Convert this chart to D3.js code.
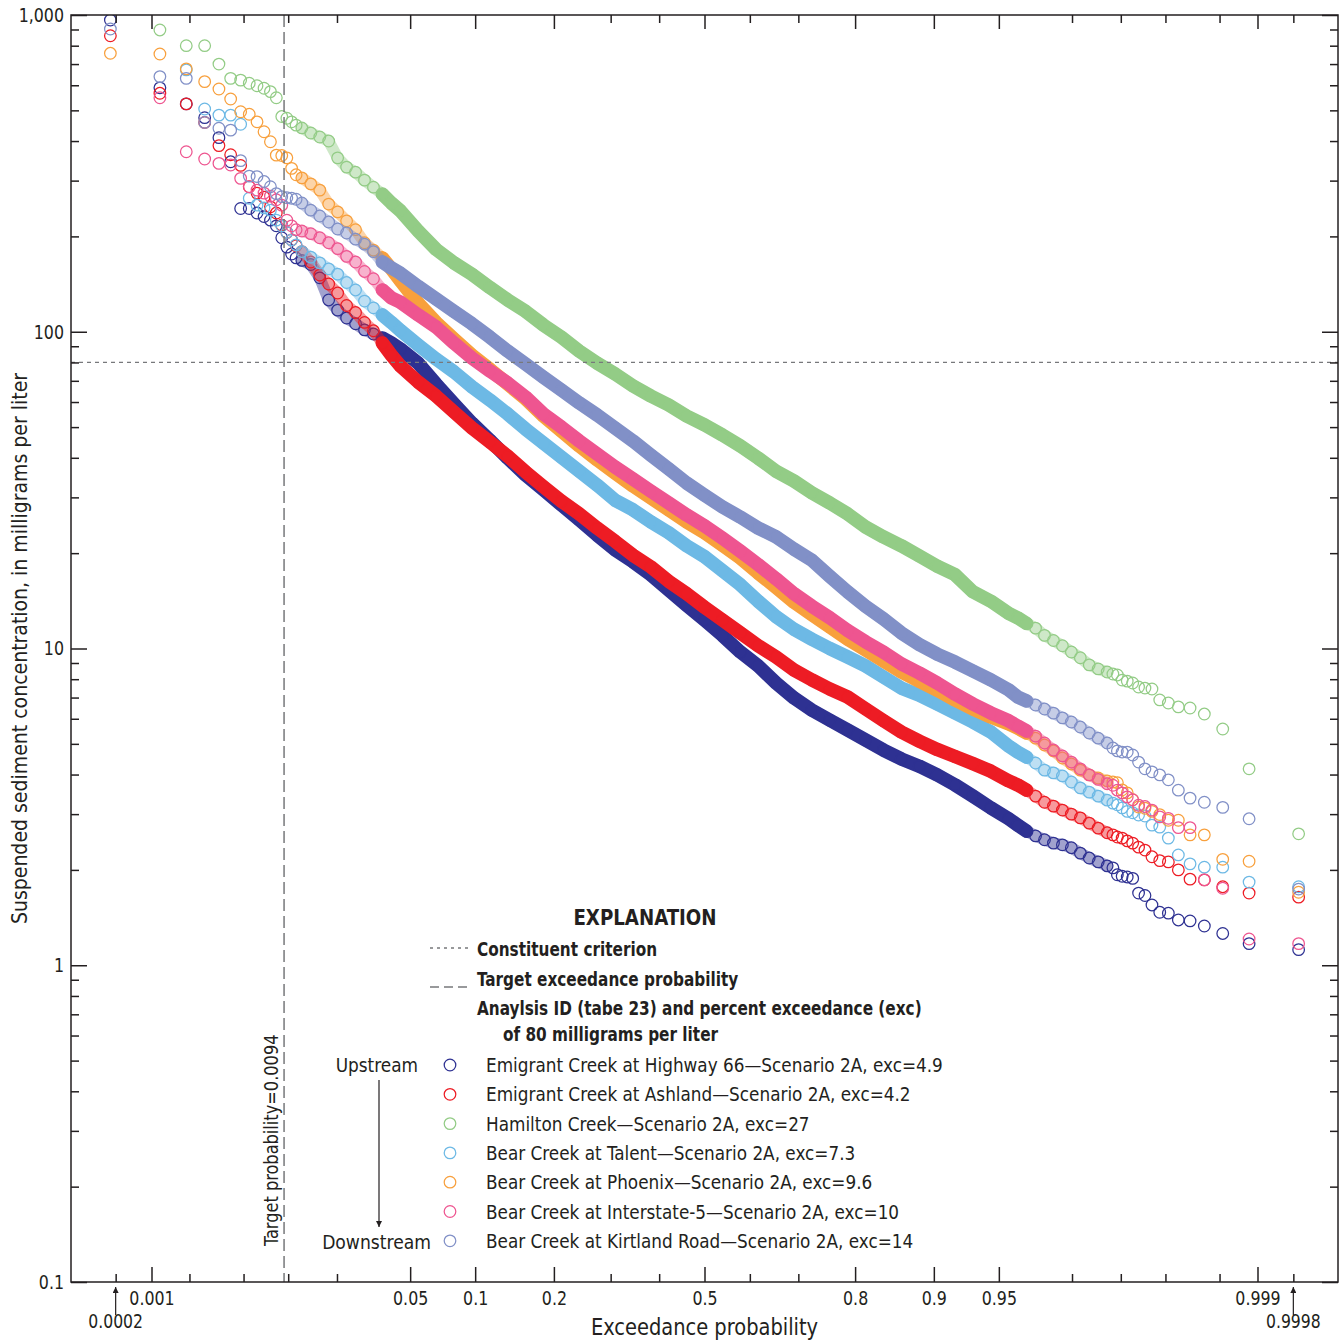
<!DOCTYPE html>
<html><head><meta charset="utf-8">
<script src="https://cdn.jsdelivr.net/npm/d3@7"></script>
<style>
body{margin:0;background:#fff}
svg text{font-family:"Liberation Sans Narrow","Arial Narrow","DejaVu Sans Condensed",sans-serif;fill:#231f20}
</style></head><body>
<svg id="chart" width="1341" height="1341"></svg>
<script>
// ---------------- data ----------------
const exceedance = [0.00045,0.00117,0.00189,0.00261,0.00333,0.00405,0.00477,0.00548,0.0062,0.00692,0.00764,0.00836,0.00908,0.0098,0.01052,0.01124,
0.01222,0.0139,0.01578,0.01786,0.02018,0.02275,0.02559,0.02872,0.03216,0.03593,0.04006,
0.04457,0.0548,0.06681,0.08076,0.0968,0.11507,0.13567,0.15866,0.18406,0.21186,0.24196,0.27425,0.30854,0.34458,0.38209,0.42074,0.46017,0.5,0.53983,0.57926,0.61791,0.65542,0.69146,0.72575,0.75804,0.78814,0.81594,0.84134,0.86433,0.88493,0.9032,0.91924,0.93319,0.9452,0.95543,
0.95994,0.96407,0.96784,0.97128,0.97441,0.97725,0.97982,0.98214,0.98422,0.9861,0.98778,
0.98876,0.98948,0.9902,0.99092,0.99164,0.99236,0.99308,0.9938,0.99452,0.99523,0.99595,0.99667,0.99739,0.99811,0.99883,0.99955];

const emigrantHwy66 = [964,589,524,474,410,344,245,245,237,231,225,216,198,185,176,171,
168,163,148,126,117,110.5,106,101.4,98.4,95.5,92.1,
88.3,79.6,68.4,59.2,51.5,45.5,39.9,35.3,31.7,28.4,25.5,22.8,20.5,18.8,17.1,15.3,13.7,12.3,11.0,9.75,8.81,7.78,6.98,6.39,5.94,5.53,5.14,4.78,4.48,4.25,3.99,3.71,3.42,3.14,2.90,
2.77,2.65,2.56,2.49,2.43,2.40,2.35,2.26,2.18,2.12,2.06,
2.03,1.93,1.91,1.90,1.88,1.69,1.66,1.55,1.47,1.46,1.39,1.38,1.33,1.26,1.17,1.12];

const emigrantAshland = [860,566,524,458,387,362,335,287,274,266,248,237,217,206,195,187,
179,166,151,141.5,132.5,121,115,107,100.7,92.1,84.4,
78.0,69.4,62.7,55.8,49.7,44.9,40.5,36.1,32.4,29.2,26.6,24.0,21.8,19.7,18.1,16.3,14.9,13.5,12.3,11.2,10.2,9.40,8.55,7.96,7.45,7.03,6.45,5.92,5.45,5.10,4.80,4.56,4.33,4.10,3.82,
3.71,3.57,3.42,3.27,3.18,3.09,3.00,2.92,2.81,2.71,2.62,
2.58,2.54,2.52,2.47,2.43,2.36,2.31,2.20,2.14,2.12,2.00,1.87,1.86,1.77,1.69,1.64];

const hamiltonCreek = [null,897,800,800,700,631,623,609,598,587,573,548,478,472,460,449,
440,424,412,400,354,331,319,301,286,272,255,
241,208,182,165,152,138,126,116,105,96.2,86.9,79.6,73.6,67.5,62.7,58.7,54.2,50.8,47.2,43.6,39.9,36.3,33.8,31.0,28.8,26.6,24.2,22.5,21.1,19.6,18.2,17.1,15.1,14.1,12.9,
12.5,12.0,11.6,11.0,10.6,10.2,9.75,9.35,8.88,8.62,8.43,
8.31,8.25,7.95,7.89,7.78,7.56,7.50,7.45,6.88,6.73,6.54,6.49,6.21,5.57,4.17,2.60];

const bearTalent = [null,null,671,505,483,483,452,264,251,246,242,225,216,206,195,188,
179,172,165,158,152,143,135.5,125,119,113,107,
101,90.8,82.0,74.7,67.0,60.9,55.0,49.3,44.5,40.2,36.3,32.8,29.4,27.4,25.1,23.2,21.1,19.5,17.6,15.9,14.1,12.6,11.5,10.7,10.0,9.40,8.81,8.13,7.50,7.13,6.68,6.26,5.86,5.45,4.92,
4.71,4.54,4.35,4.13,4.05,3.96,3.79,3.63,3.52,3.42,3.32,
3.25,3.21,3.14,3.06,3.03,2.98,2.96,2.77,2.73,2.52,2.23,2.09,2.04,2.04,1.83,1.77];

const bearPhoenix = [757,753,676,616,584,543,495,486,460,428,398,361,360,354,328,313,
306,293,280,253,239,224,210,191,181,171,158,
145,123,107,94.9,84.4,76.2,68.4,61.4,54.2,48.6,43.6,39.4,35.8,32.6,29.9,27.4,25.1,23.2,21.2,19.3,17.3,15.6,14.0,12.8,11.7,10.7,9.89,9.13,8.43,7.89,7.39,6.88,6.44,6.08,5.78,
5.61,5.41,5.21,4.96,4.75,4.51,4.32,4.13,3.99,3.90,3.82,
3.79,3.77,3.58,3.50,3.33,3.16,3.13,3.06,2.99,2.87,2.87,2.58,2.58,2.16,2.13,1.70];

const bearI5 = [null,548,370,351,340,336,305,287,280,274,268,261,251,225,216,210,
208,204,198,191,183,173,166,155,147,135.5,128,
124,113,103.5,92.1,82.6,75.2,68.9,62.2,55.0,50.0,45.2,41.1,37.4,34.3,31.4,28.8,26.4,24.4,22.3,20.3,18.4,16.6,14.9,13.6,12.5,11.4,10.5,9.74,8.94,8.37,7.78,7.18,6.68,6.26,5.91,
5.69,5.49,5.29,5.03,4.78,4.58,4.38,4.17,3.99,3.86,3.74,
3.70,3.57,3.50,3.40,3.33,3.20,3.17,3.09,2.94,2.91,2.72,2.72,1.86,1.75,1.21,1.17];

const bearKirtland = [903,639,631,458,439,433,347,310,309,298,287,273,267,265,264,262,
255,242,232,222,211,205,196,189,179,166,159,
153,139,127,116,106,96.2,86.9,79.1,71.9,65.5,59.6,54.6,49.7,45.2,40.8,36.9,33.3,30.5,28.0,26.0,24.0,22.5,20.6,19.0,16.9,15.1,13.6,12.4,11.2,10.3,9.6,9.06,8.49,7.96,7.40,
7.03,6.83,6.63,6.44,6.25,6.04,5.86,5.65,5.41,5.21,5.03,
4.85,4.75,4.71,4.71,4.61,4.38,4.17,4.08,3.99,3.85,3.57,3.37,3.27,3.15,2.90,1.74];

const seriesNames = ["Emigrant Creek at Highway 66","Emigrant Creek at Ashland","Hamilton Creek","Bear Creek at Talent","Bear Creek at Phoenix","Bear Creek at Interstate-5","Bear Creek at Kirtland Road"];
const scenario = "Scenario 2A";
const excPercent = [4.9,4.2,27,7.3,9.6,10,14];
const seriesValues = [emigrantHwy66,emigrantAshland,hamiltonCreek,bearTalent,bearPhoenix,bearI5,bearKirtland];
const seriesColors = ["#2e3192","#ed1c24","#93cc86","#6db9e5","#f8a03d","#ee5590","#8190c7"];

const criterionValue = 80;
const targetProbability = 0.0094;
const xDomain = [0.0002,0.9998];
const yDomain = [0.1,1000];
const xMajorTicks = [0.001,0.05,0.1,0.2,0.5,0.8,0.9,0.95,0.999];
const xMajorLabels = ["0.001","0.05","0.1","0.2","0.5","0.8","0.9","0.95","0.999"];
const xMinorTicks = [0.0005,0.002,0.005,0.01,0.02,0.3,0.4,0.6,0.7,0.98,0.99,0.995,0.998,0.9995];
const xArrowTicks = [0.0005,0.9995];
const xArrowLabels = ["0.0002","0.9998"];
const yMajorTicks = [0.1,1,10,100,1000];
const yMajorLabels = ["0.1","1","10","100","1,000"];
const denseRange = [0.0359,0.9641];   // points overlap into a solid band here
const ringRange = [0.0122,0.9878];    // points overlap into a ring cluster here

// ---------------- chart ----------------
const W=1341,H=1341,M={top:15,right:3,bottom:59,left:71};
const ink="#231f20";
function probit(p){
  const a=[-3.969683028665376e+01,2.209460984245205e+02,-2.759285104469687e+02,1.383577518672690e+02,-3.066479806614716e+01,2.506628277459239e+00];
  const b=[-5.447609879822406e+01,1.615858368580409e+02,-1.556989798598866e+02,6.680131188771972e+01,-1.328068155288572e+01];
  const c=[-7.784894002430293e-03,-3.223964580411365e-01,-2.400758277161838e+00,-2.549732539343734e+00,4.374664141464968e+00,2.938163982698783e+00];
  const d=[7.784695709041462e-03,3.224671290700398e-01,2.445134137142996e+00,3.754408661907416e+00];
  const pl=0.02425;let q,r;
  if(p<pl){q=Math.sqrt(-2*Math.log(p));return (((((c[0]*q+c[1])*q+c[2])*q+c[3])*q+c[4])*q+c[5])/((((d[0]*q+d[1])*q+d[2])*q+d[3])*q+1);}
  if(p>1-pl){q=Math.sqrt(-2*Math.log(1-p));return -(((((c[0]*q+c[1])*q+c[2])*q+c[3])*q+c[4])*q+c[5])/((((d[0]*q+d[1])*q+d[2])*q+d[3])*q+1);}
  q=p-0.5;r=q*q;return (((((a[0]*r+a[1])*r+a[2])*r+a[3])*r+a[4])*r+a[5])*q/(((((b[0]*r+b[1])*r+b[2])*r+b[3])*r+b[4])*r+1);
}
const zScale=d3.scaleLinear().domain(xDomain.map(probit)).range([M.left,W-M.right]);
const x=p=>zScale(probit(p));
x.range=()=>zScale.range(); x.domain=()=>xDomain.slice(); x.copy=()=>x;
const y=d3.scaleLog().domain(yDomain).range([H-M.bottom,M.top]);

// compress the (wider) installed font horizontally to match the condensed original
function squeeze(sel,k){
  sel.each(function(){const w=this.getComputedTextLength();if(w>0){this.setAttribute("textLength",w*k);this.setAttribute("lengthAdjust","spacingAndGlyphs");}});
  return sel;
}

const svg=d3.select("#chart");
const defs=svg.append("defs");
defs.append("clipPath").attr("id","plotclip").append("rect")
  .attr("x",M.left).attr("y",M.top).attr("width",W-M.left-M.right).attr("height",H-M.top-M.bottom);
defs.append("marker").attr("id","arrowUp").attr("viewBox","0 0 10 10").attr("refX",5).attr("refY",0)
  .attr("markerWidth",6).attr("markerHeight",9).attr("markerUnits","userSpaceOnUse").attr("orient","0")
  .append("path").attr("d","M0,10 L5,0 L10,10 Z").attr("fill",ink);
defs.append("marker").attr("id","arrowDown").attr("viewBox","0 0 10 10").attr("refX",5).attr("refY",10)
  .attr("markerWidth",6).attr("markerHeight",9).attr("markerUnits","userSpaceOnUse").attr("orient","0")
  .append("path").attr("d","M0,0 L5,10 L10,0 Z").attr("fill",ink);

function styleAxis(g,fs){
  g.select(".domain").remove();
  g.attr("font-family",null);
  g.selectAll(".tick line").attr("stroke",ink).attr("stroke-width",1.5);
  g.selectAll(".tick text").attr("font-size",fs).attr("fill",ink);
  squeeze(g.selectAll(".tick text"),0.88);
}
const yb=H-M.bottom, yt=M.top, xl=M.left, xr=W-M.right;

// series
const R=5.8, SW=1.25;
const plot=svg.append("g").attr("clip-path","url(#plotclip)");
const line=d3.line().x(d=>x(d.p)).y(d=>y(d.v));
seriesValues.forEach((vals,si)=>{
  const pts=exceedance.map((p,i)=>({p,v:vals[i]})).filter(d=>d.v!=null);
  const g=plot.append("g");
  const ring=pts.filter(d=>d.p>=ringRange[0]&&d.p<=ringRange[1]);
  const dense=pts.filter(d=>d.p>=denseRange[0]&&d.p<=denseRange[1]);
  g.append("path").datum(ring).attr("d",line).attr("fill","none").attr("stroke",seriesColors[si]).attr("stroke-opacity",0.45)
    .attr("stroke-width",2*R).attr("stroke-linecap","round").attr("stroke-linejoin","round");
  g.append("path").datum(dense).attr("d",line).attr("fill","none").attr("stroke",seriesColors[si])
    .attr("stroke-width",2*R+SW+0.8).attr("stroke-linecap","round").attr("stroke-linejoin","round");
  g.selectAll("circle").data(pts).join("circle")
    .attr("cx",d=>x(d.p)).attr("cy",d=>y(d.v)).attr("r",R)
    .attr("fill","none").attr("stroke",seriesColors[si]).attr("stroke-width",SW);
});

// reference lines
svg.append("line").attr("x1",xl).attr("x2",xr).attr("y1",y(criterionValue)).attr("y2",y(criterionValue))
  .attr("stroke","#77787b").attr("stroke-width",1.3).attr("stroke-dasharray","4,4");
svg.append("line").attr("x1",x(targetProbability)).attr("x2",x(targetProbability)).attr("y1",yt).attr("y2",yb)
  .attr("stroke","#77787b").attr("stroke-width",1.5).attr("stroke-dasharray","12,5");
squeeze(svg.append("text").attr("transform",`translate(${x(targetProbability)-6},${yb-36}) rotate(-90)`)
  .attr("font-size",20).text("Target probability=0.0094"),0.9);

// axes
svg.append("g").attr("transform",`translate(0,${yb})`)
  .call(d3.axisBottom(x).tickValues(xMajorTicks).tickFormat((d,i)=>xMajorLabels[i]).tickSizeInner(-15).tickSizeOuter(0).tickPadding(9))
  .call(g=>styleAxis(g,20));
svg.append("g").attr("transform",`translate(0,${yb})`)
  .call(d3.axisBottom(x).tickValues(xMinorTicks).tickFormat("").tickSizeInner(-8).tickSizeOuter(0))
  .call(g=>styleAxis(g,20));
svg.append("g").attr("transform",`translate(0,${yt})`)
  .call(d3.axisTop(x).tickValues(xMajorTicks).tickFormat("").tickSizeInner(-14).tickSizeOuter(0))
  .call(g=>styleAxis(g,20));
svg.append("g").attr("transform",`translate(0,${yt})`)
  .call(d3.axisTop(x).tickValues(xMinorTicks).tickFormat("").tickSizeInner(-8).tickSizeOuter(0))
  .call(g=>styleAxis(g,20));
const yMinor=y.ticks().filter(v=>!yMajorTicks.some(m=>Math.abs(Math.log10(v/m))<1e-6));
svg.append("g").attr("transform",`translate(${xl},0)`)
  .call(d3.axisLeft(y).tickValues(yMajorTicks).tickFormat((d,i)=>yMajorLabels[i]).tickSizeInner(-16).tickSizeOuter(0).tickPadding(7))
  .call(g=>styleAxis(g,20));
svg.append("g").attr("transform",`translate(${xl},0)`)
  .call(d3.axisLeft(y).tickValues(yMinor).tickFormat("").tickSizeInner(-8).tickSizeOuter(0))
  .call(g=>styleAxis(g,20));
svg.append("g").attr("transform",`translate(${xr},0)`)
  .call(d3.axisRight(y).tickValues(yMajorTicks).tickFormat("").tickSizeInner(-16).tickSizeOuter(0))
  .call(g=>styleAxis(g,20));
svg.append("g").attr("transform",`translate(${xr},0)`)
  .call(d3.axisRight(y).tickValues(yMinor).tickFormat("").tickSizeInner(-8).tickSizeOuter(0))
  .call(g=>styleAxis(g,20));

// arrow labels 0.0002 / 0.9998
xArrowTicks.forEach((p,i)=>{
  svg.append("line").attr("x1",x(p)).attr("x2",x(p)).attr("y1",yb+33).attr("y2",yb+5)
    .attr("stroke",ink).attr("stroke-width",1.2).attr("marker-end","url(#arrowUp)");
  squeeze(svg.append("text").attr("x",x(p)).attr("y",yb+46).attr("text-anchor","middle").attr("font-size",20).text(xArrowLabels[i]),0.87);
});
// axis titles
squeeze(svg.append("text").attr("x",(xl+xr)/2).attr("y",H-6).attr("text-anchor","middle").attr("font-size",23).text("Exceedance probability"),0.94);
squeeze(svg.append("text").attr("transform",`translate(27,${(yt+yb)/2}) rotate(-90)`).attr("text-anchor","middle").attr("font-size",22)
  .text("Suspended sediment concentration, in milligrams per liter"),0.955);

// frame
svg.append("rect").attr("x",xl).attr("y",yt).attr("width",xr-xl).attr("height",yb-yt)
  .attr("fill","none").attr("stroke",ink).attr("stroke-width",1.5);

// legend
const L=svg.append("g");
squeeze(L.append("text").attr("x",645).attr("y",925).attr("text-anchor","middle").attr("font-size",22).attr("font-weight","bold").text("EXPLANATION"),0.92);
L.append("line").attr("x1",430).attr("x2",468).attr("y1",948).attr("y2",948).attr("stroke","#77787b").attr("stroke-width",1.3).attr("stroke-dasharray","3,4");
squeeze(L.append("text").attr("x",477).attr("y",956).attr("font-size",20).attr("font-weight","bold").text("Constituent criterion"),0.85);
L.append("line").attr("x1",430).attr("x2",468).attr("y1",987).attr("y2",987).attr("stroke","#77787b").attr("stroke-width",1.3).attr("stroke-dasharray","9,5");
squeeze(L.append("text").attr("x",477).attr("y",986).attr("font-size",20).attr("font-weight","bold").text("Target exceedance probability"),0.85);
squeeze(L.append("text").attr("x",477).attr("y",1015).attr("font-size",20).attr("font-weight","bold").text("Anaylsis ID (tabe 23) and percent exceedance (exc)"),0.85);
squeeze(L.append("text").attr("x",503).attr("y",1041).attr("font-size",20).attr("font-weight","bold").text("of 80 milligrams per liter"),0.85);
seriesNames.forEach((n,i)=>{
  const cy=1065+i*29.3;
  L.append("circle").attr("cx",450).attr("cy",cy).attr("r",R).attr("fill","none").attr("stroke",seriesColors[i]).attr("stroke-width",SW);
  squeeze(L.append("text").attr("x",486).attr("y",cy+7).attr("font-size",20).text(`${n}\u2014${scenario}, exc=${excPercent[i]}`),0.937);
});
squeeze(L.append("text").attr("x",418).attr("y",1072).attr("text-anchor","end").attr("font-size",20).text("Upstream"),0.94);
squeeze(L.append("text").attr("x",431).attr("y",1249).attr("text-anchor","end").attr("font-size",20).text("Downstream"),0.955);
L.append("line").attr("x1",379).attr("x2",379).attr("y1",1080).attr("y2",1227).attr("stroke",ink).attr("stroke-width",1.2).attr("marker-end","url(#arrowDown)");
</script>
</body></html>
